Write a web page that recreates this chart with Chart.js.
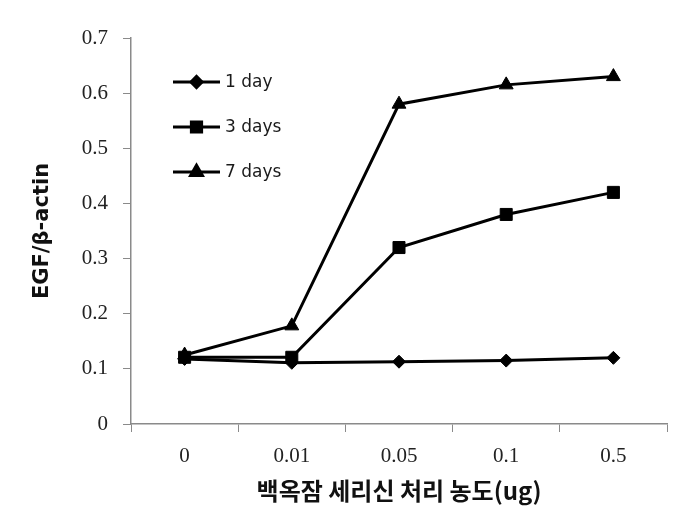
<!DOCTYPE html>
<html>
<head>
<meta charset="utf-8">
<script src="https://cdn.jsdelivr.net/npm/chart.js@4.4.1/dist/chart.umd.min.js"></script>
<style>
    html, body { margin: 0; padding: 0; background: #fff; }
    #wrap { width: 699px; height: 527px; }
</style>
</head>
<body>
<div id="wrap"><canvas id="egfChart" width="699" height="527"></canvas></div>
<script>
// Data
const doses = ['0', '0.01', '0.05', '0.1', '0.5'];
const day1 = [0.118, 0.111, 0.113, 0.115, 0.120];
const day3 = [0.121, 0.121, 0.320, 0.380, 0.420];
const day7 = [0.125, 0.178, 0.580, 0.615, 0.630];
const seriesNames = ['1 day', '3 days', '7 days'];
const yTickLabels = ['0', '0.1', '0.2', '0.3', '0.4', '0.5', '0.6', '0.7'];

const axisGrey = '#8a8a8a';

function makeSet(label, data, style, radius) {
    return {
        label: label,
        data: data,
        borderColor: '#000',
        backgroundColor: '#000',
        borderWidth: 3,
        pointStyle: style,
        pointRadius: radius,
        pointHoverRadius: radius,
        pointBackgroundColor: '#000',
        pointBorderColor: '#000',
        pointBorderWidth: 1,
        tension: 0
    };
}

// legend drawn inside the plot, upper left
const insideLegend = {
    id: 'insideLegend',
    afterDraw(chart) {
        const ctx = chart.ctx;
        const area = chart.chartArea;
        const x0 = area.left + 42;
        const lineLen = 47;
        let y = area.top + 44;
        ctx.save();
        chart.data.datasets.forEach(ds => {
            ctx.strokeStyle = '#000';
            ctx.lineWidth = 3;
            ctx.beginPath();
            ctx.moveTo(x0, y);
            ctx.lineTo(x0 + lineLen, y);
            ctx.stroke();
            ctx.fillStyle = '#000';
            Chart.helpers.drawPoint(ctx, {
                pointStyle: ds.pointStyle,
                radius: ds.pointRadius * 0.85,
                borderWidth: 1,
                rotation: 0
            }, x0 + lineLen / 2, y);
            ctx.fillStyle = '#1a1a1a';
            ctx.font = '17px "DejaVu Sans"';
            ctx.textBaseline = 'middle';
            ctx.textAlign = 'left';
            ctx.fillText(ds.label, x0 + lineLen + 5, y + 1);
            y += 45;
        });
        ctx.restore();
    }
};

const ctx = document.getElementById('egfChart').getContext('2d');
new Chart(ctx, {
    type: 'line',
    data: {
        labels: doses,
        datasets: [
            makeSet(seriesNames[0], day1, 'rectRot', 6.5),
            makeSet(seriesNames[1], day3, 'rect', 8.5),
            makeSet(seriesNames[2], day7, 'triangle', 8)
        ]
    },
    options: {
        responsive: false,
        animation: false,
        layout: {
            padding: { top: 38, right: 32, left: 26, bottom: 18 }
        },
        plugins: {
            legend: { display: false },
            tooltip: { enabled: false }
        },
        scales: {
            x: {
                offset: true,
                grid: {
                    offset: true,
                    drawOnChartArea: false,
                    drawTicks: true,
                    tickLength: 8,
                    color: axisGrey
                },
                border: { display: true, color: axisGrey, width: 1.5 },
                ticks: {
                    color: '#222',
                    padding: 12,
                    maxRotation: 0,
                    font: { family: '"Liberation Serif"', size: 21 }
                },
                title: {
                    display: true,
                    text: '백옥잠 세리신 처리 농도(ug)',
                    color: '#111',
                    font: { family: '"Noto Sans CJK KR"', size: 24, weight: 'bold' }
                },
                afterFit(scale) { scale.height = 527 - 18 - 424; }
            },
            y: {
                min: 0,
                max: 0.7,
                grid: {
                    drawOnChartArea: false,
                    drawTicks: true,
                    tickLength: 8,
                    color: axisGrey
                },
                border: { display: true, color: axisGrey, width: 1.5 },
                ticks: {
                    stepSize: 0.1,
                    color: '#222',
                    padding: 15,
                    font: { family: '"Liberation Serif"', size: 21 },
                    callback: (value, index) => yTickLabels[index]
                },
                title: {
                    display: true,
                    text: 'EGF/β-actin',
                    color: '#111',
                    font: { family: '"DejaVu Sans"', size: 21, weight: 'bold' }
                },
                afterFit(scale) { scale.width = 105; }
            }
        }
    },
    plugins: [insideLegend]
});
</script>
</body>
</html>
